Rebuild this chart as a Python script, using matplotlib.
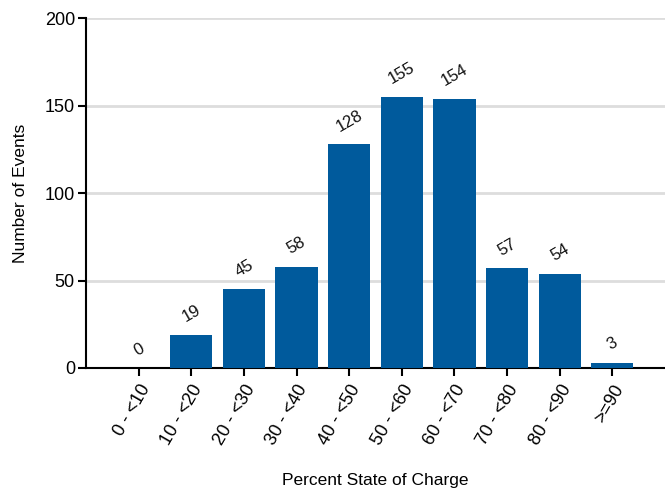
import matplotlib
matplotlib.use("Agg")
import matplotlib.pyplot as plt

plt.rcParams['font.family'] = ['Liberation Sans', 'DejaVu Sans']

# data
categories = ["0 - <10", "10 - <20", "20 - <30", "30 - <40", "40 - <50",
              "50 - <60", "60 - <70", "70 - <80", "80 - <90", ">=90"]
events = [0, 19, 45, 58, 128, 155, 154, 57, 54, 3]

bar_color = "#005a9c"

fig = plt.figure(figsize=(6.65, 4.94), dpi=100)
ax = fig.add_axes([86 / 665, (494 - 368) / 494, 1 - 86 / 665, 350 / 494])

x = list(range(len(categories)))
ax.bar(x, events, width=0.8, color=bar_color, zorder=3)

for xi, v in zip(x, events):
    ax.annotate(str(v), (xi, v), xytext=(0, 7), textcoords="offset points",
                ha="center", va="bottom", rotation=30, fontsize=12,
                color="#111111")

ax.set_xlim(-1, len(categories))
ax.set_ylim(0, 200)
ax.set_yticks([0, 50, 100, 150, 200])
ax.grid(axis="y", color="#dddddd", linewidth=2, zorder=0)

ax.set_xticks(x)
ax.set_xticklabels(categories, rotation=60, ha="right", rotation_mode="anchor",
                   fontsize=13)
ax.tick_params(axis="y", labelsize=13, length=6, width=1.5, pad=2)
ax.tick_params(axis="x", length=6, width=1.5, pad=4)

for side in ["top", "right"]:
    ax.spines[side].set_visible(False)
ax.spines["left"].set_linewidth(1.5)
ax.spines["bottom"].set_linewidth(1.5)

ax.set_xlabel("Percent State of Charge", fontsize=12.5, labelpad=18)
ax.set_ylabel("Number of Events", fontsize=12.5, labelpad=12)

fig.savefig("out.png", dpi=100)
